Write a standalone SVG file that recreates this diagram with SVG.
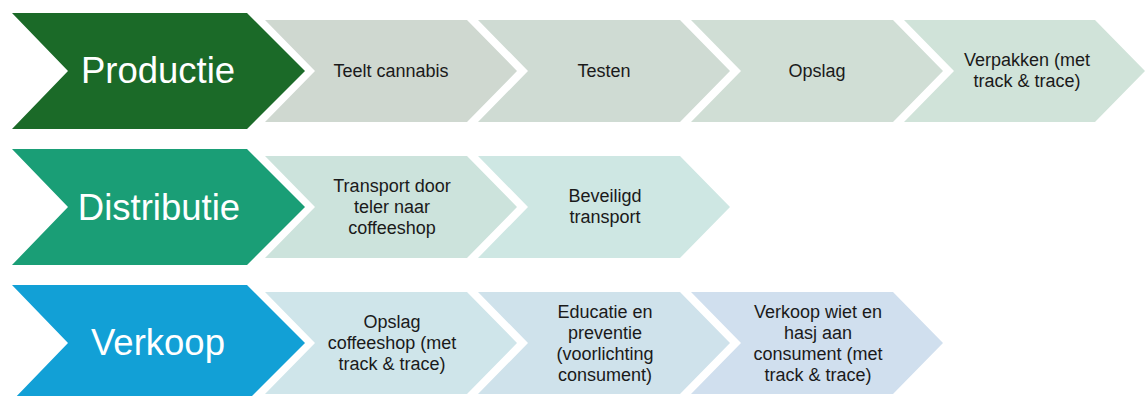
<svg xmlns="http://www.w3.org/2000/svg" width="1146" height="396" viewBox="0 0 1146 396">
<defs>
<style>
.big{font-family:"Liberation Sans",Arial,sans-serif;font-size:36.5px;fill:#ffffff;text-anchor:middle}
.sm{font-family:"Liberation Sans",Arial,sans-serif;font-size:18px;fill:#1a1a1a;text-anchor:middle}
</style>
<path id="bigChev" d="M0,0 L235,0 L293,58 L235,116 L0,116 L56,58 Z"/>
<path id="smChev" d="M0,0 L202,0 L252,51 L202,102 L0,102 L50,51 Z"/>
</defs>
<rect width="1146" height="396" fill="#ffffff"/>

<g id="connectors"></g>

<!-- Row 1 -->
<g id="productie">
<use href="#bigChev" x="12" y="13" fill="#1b6a28"/>
<text class="big" x="158" y="83">Productie</text>
</g>
<g id="teelt">
<use href="#smChev" x="265" y="20" fill="#cfd8d0"/>
<text class="sm" x="391" y="77">Teelt cannabis</text>
</g>
<g id="testen">
<use href="#smChev" x="478" y="20" fill="#cfdbd3"/>
<text class="sm" x="604" y="77">Testen</text>
</g>
<g id="opslag">
<use href="#smChev" x="691" y="20" fill="#d0ded5"/>
<text class="sm" x="817" y="77">Opslag</text>
</g>
<g id="verpakken">
<path d="M904,20 L1095,20 L1145,71 L1095,122 L904,122 L954,71 Z" fill="#d0e3d9"/>
<text class="sm" x="1027" y="66">Verpakken (met</text>
<text class="sm" x="1027" y="87">track &amp; trace)</text>
</g>

<!-- Row 2 -->
<g id="distributie">
<use href="#bigChev" x="12" y="149" fill="#1a9e76"/>
<text class="big" x="159" y="220">Distributie</text>
</g>
<g id="transport">
<use href="#smChev" x="265" y="156" fill="#cce3dc"/>
<text class="sm" x="392" y="192">Transport door</text>
<text class="sm" x="392" y="213">teler naar</text>
<text class="sm" x="392" y="234">coffeeshop</text>
</g>
<g id="beveiligd">
<use href="#smChev" x="478" y="156" fill="#cee7e3"/>
<text class="sm" x="605" y="202">Beveiligd</text>
<text class="sm" x="605" y="223">transport</text>
</g>

<!-- Row 3 -->
<g id="verkoop">
<use href="#bigChev" x="12" y="285" fill="#12a0d6"/>
<text class="big" x="158" y="355">Verkoop</text>
</g>
<g id="opslagcoffeeshop">
<use href="#smChev" x="265" y="292" fill="#cfe5ea"/>
<text class="sm" x="392" y="328">Opslag</text>
<text class="sm" x="392" y="349">coffeeshop (met</text>
<text class="sm" x="392" y="370">track &amp; trace)</text>
</g>
<g id="educatie">
<use href="#smChev" x="478" y="292" fill="#cfe2eb"/>
<text class="sm" x="605" y="318">Educatie en</text>
<text class="sm" x="605" y="339">preventie</text>
<text class="sm" x="605" y="360">(voorlichting</text>
<text class="sm" x="605" y="381">consument)</text>
</g>
<g id="verkoopwiet">
<use href="#smChev" x="691" y="292" fill="#d0dfee"/>
<text class="sm" x="818" y="318">Verkoop wiet en</text>
<text class="sm" x="818" y="339">hasj aan</text>
<text class="sm" x="818" y="360">consument (met</text>
<text class="sm" x="818" y="381">track &amp; trace)</text>
</g>
</svg>
